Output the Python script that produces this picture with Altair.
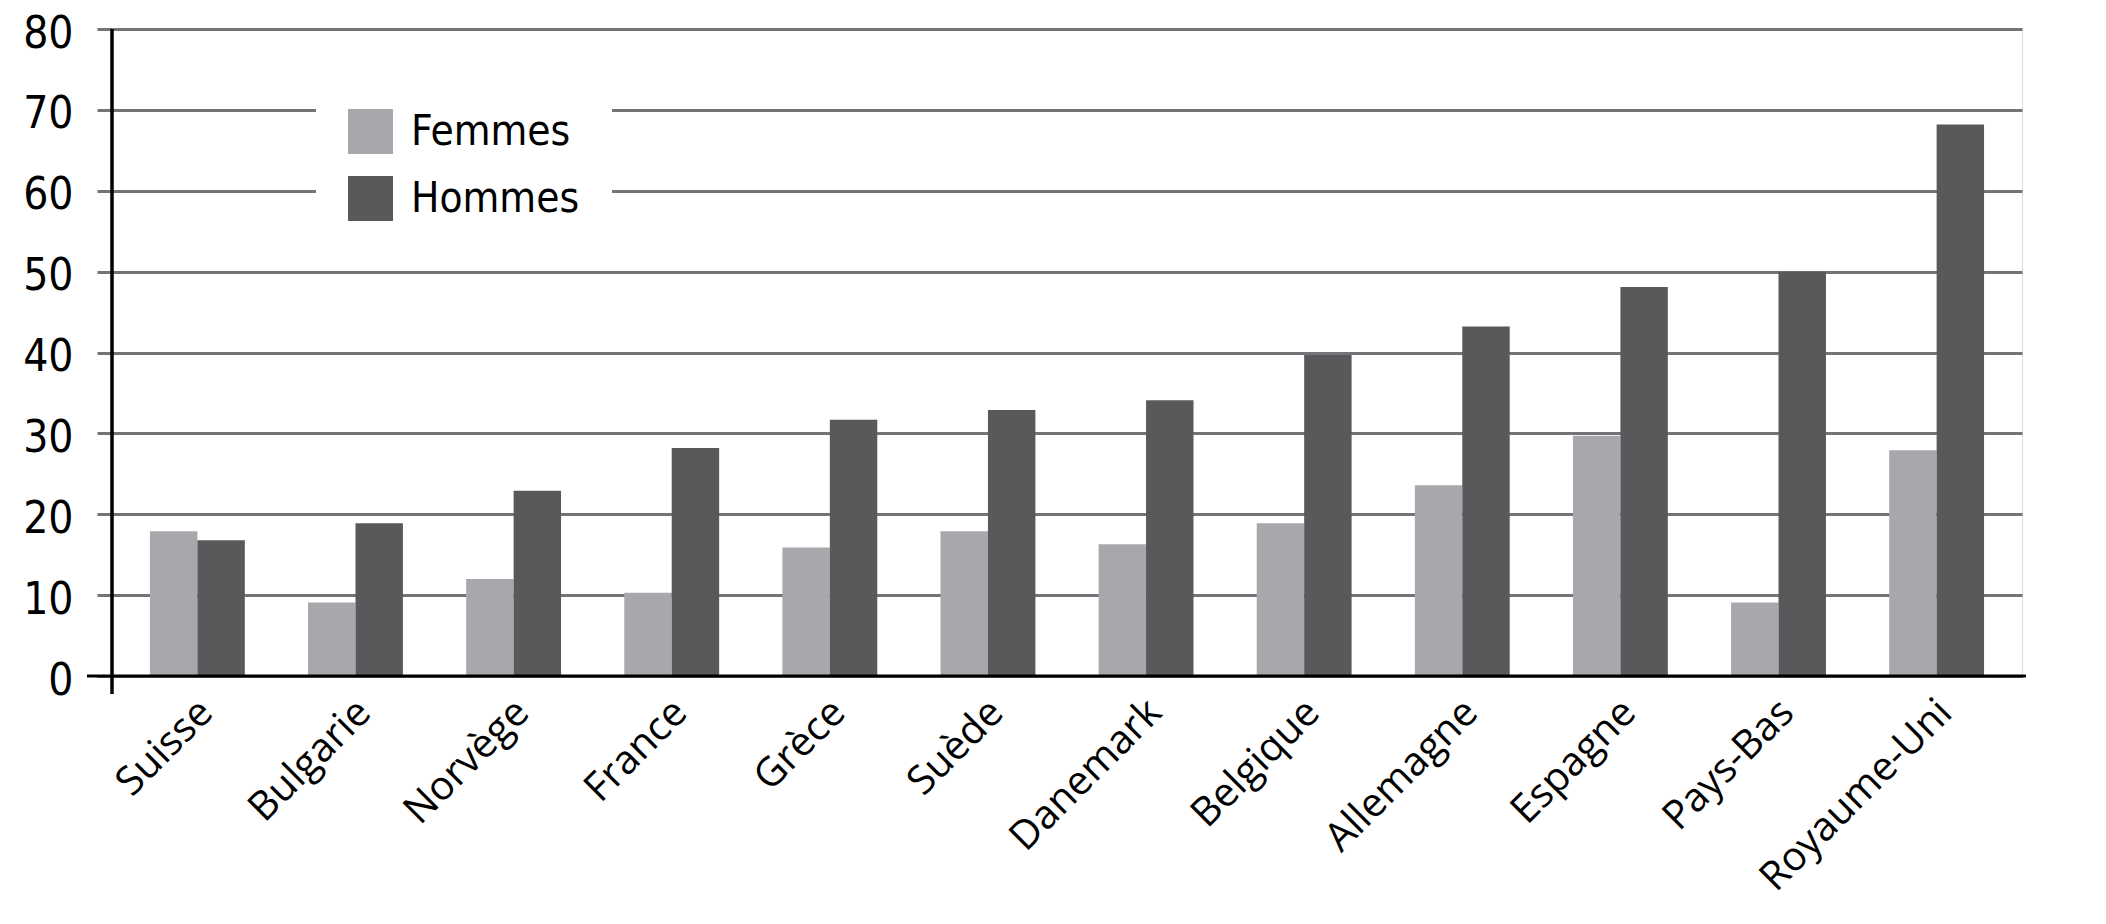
import altair as alt
import pandas as pd

countries = ["Suisse", "Bulgarie", "Norvège", "France", "Grèce", "Suède",
             "Danemark", "Belgique", "Allemagne", "Espagne", "Pays-Bas", "Royaume-Uni"]
femmes = [17.9, 9.1, 12.0, 10.3, 15.9, 17.9, 16.3, 18.9, 23.6, 29.7, 9.1, 27.9]
hommes = [16.8, 18.9, 22.9, 28.2, 31.7, 32.9, 34.1, 39.7, 43.2, 48.1, 50.0, 68.2]
series = ["Femmes", "Hommes"]
colors = ["#a7a8ab", "#58595b"]
y_ticks = [0, 10, 20, 30, 40, 50, 60, 70, 80]

rows = []
for c, f, h in zip(countries, femmes, hommes):
    rows.append({"pays": c, "sexe": "Femmes", "val": f})
    rows.append({"pays": c, "sexe": "Hommes", "val": h})
df = pd.DataFrame(rows)

W, H = 1910, 647
GRID = "#737477"
NUMFONT = "'DejaVu Sans Condensed', Roboto, sans-serif"

bars = alt.Chart(df).mark_bar().encode(
    x=alt.X("pays:N", sort=countries,
            scale=alt.Scale(paddingInner=0.4, paddingOuter=0.24),
            axis=alt.Axis(title=None, labelAngle=-45, labelAlign="right",
                          labelBaseline="middle", labelFont="Open Sans",
                          labelFontSize=40, labelColor="black", labelPadding=30,
                          labelOffset=9, labelLimit=0, ticks=False, domain=False,
                          labelOverlap=False)),
    xOffset=alt.XOffset("sexe:N", sort=series,
                        scale=alt.Scale(paddingInner=0, paddingOuter=0)),
    y=alt.Y("val:Q", scale=alt.Scale(domain=[0, 80], nice=False),
            axis=alt.Axis(title=None, values=y_ticks, grid=True, gridColor=GRID,
                          gridWidth=3, gridOpacity=1, tickSize=15, tickColor=GRID,
                          tickWidth=3, domain=False, labelFont=NUMFONT,
                          labelFontSize=44, labelPadding=24, labelOffset=5,
                          labelColor="black")),
    color=alt.Color("sexe:N", sort=series,
                    scale=alt.Scale(domain=series, range=colors),
                    legend=alt.Legend(orient="none", legendX=204, legendY=48,
                                      title=None, symbolType="square",
                                      symbolSize=2025, symbolStrokeWidth=0,
                                      symbolOpacity=1,
                                      labelFont=NUMFONT, labelFontSize=42,
                                      labelColor="black", labelOffset=18,
                                      labelLimit=0,
                                      rowPadding=22, padding=32,
                                      fillColor="white")),
)

zero = alt.Chart(pd.DataFrame({"v": [0]})).mark_rule(color="black", strokeWidth=3).encode(
    y="v:Q", x=alt.value(-25), x2=alt.value(W + 4))

yaxis = alt.Chart(pd.DataFrame({"v": [0]})).mark_rule(color="black", strokeWidth=3.5).encode(
    x=alt.value(0), y=alt.value(0), y2=alt.value(H + 18))

chart = alt.layer(bars, zero, yaxis).properties(
    width=W, height=H,
    autosize=alt.AutoSizeParams(type="none"),
    padding={"left": 104, "top": 21, "right": 60, "bottom": 240},
).configure_view(stroke=None).configure(background="white")

chart.save("out.html", embed_options={"renderer": "svg", "actions": False})
